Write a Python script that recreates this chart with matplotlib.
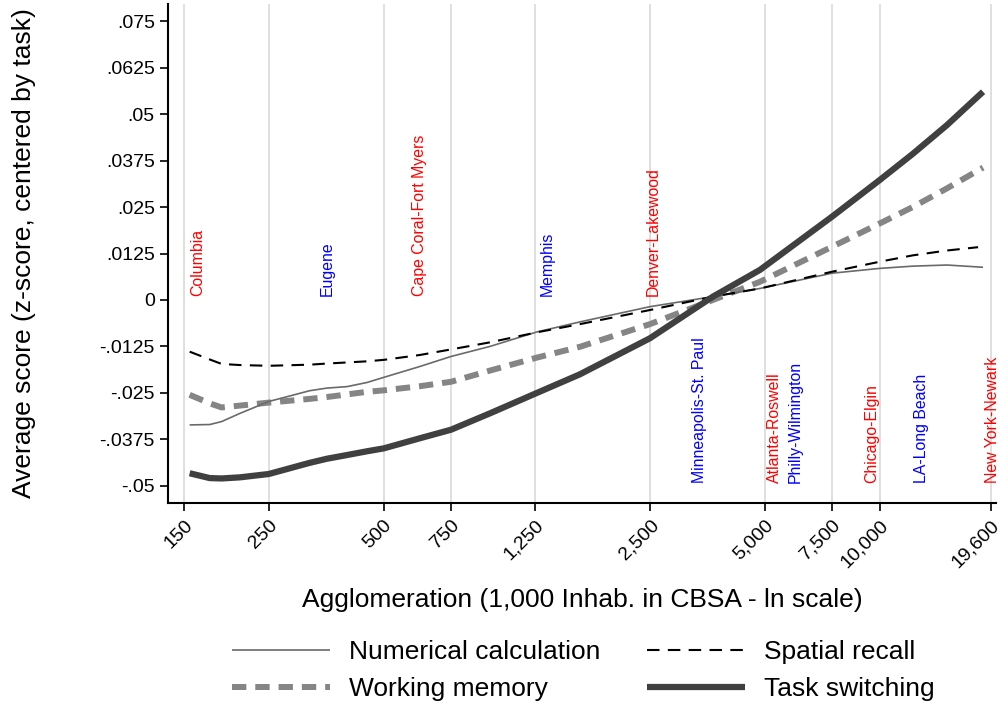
import matplotlib
matplotlib.use("Agg")
import matplotlib.pyplot as plt
import matplotlib.ticker as mticker

plt.rcParams['font.family'] = ['Liberation Sans', 'DejaVu Sans']

# ---- data (population in 1,000s, scores) ----
pop = [155, 175, 188, 210, 250, 320, 355, 401, 452, 501, 622, 751, 950,
       1262, 1636, 2498, 3654, 4857, 7502, 10020, 12220, 15010, 18680]
pop_spatial = [155, 175, 188, 210, 250, 320, 355, 401, 452, 501, 622, 751, 950,
               1262, 1636, 2498, 3654, 4857, 7502, 10020, 12220, 15010, 18130]

numerical = [-0.0336, -0.0335, -0.0327, -0.0305, -0.0273, -0.0244, -0.0237,
             -0.0233, -0.0222, -0.0208, -0.0179, -0.0152, -0.0125, -0.0086,
             -0.0059, -0.0018, 0.0009, 0.0031, 0.0072, 0.0085, 0.0091, 0.0094,
             0.0088]
spatial = [-0.0139, -0.0160, -0.0172, -0.0175, -0.0177, -0.0174, -0.0171,
           -0.0168, -0.0165, -0.0161, -0.0148, -0.0133, -0.0114, -0.0087,
           -0.0065, -0.0027, 0.0009, 0.0031, 0.0076, 0.0103, 0.0120, 0.0133,
           0.0142]
working = [-0.0255, -0.0278, -0.0289, -0.0284, -0.0276, -0.0266, -0.0261,
           -0.0254, -0.0247, -0.0243, -0.0232, -0.0220, -0.0190, -0.0155,
           -0.0126, -0.0065, 0.0000, 0.0049, 0.0143, 0.0206, 0.0250, 0.0300,
           0.0356]
switching = [-0.0466, -0.0479, -0.0480, -0.0477, -0.0468, -0.0438, -0.0427,
             -0.0417, -0.0407, -0.0399, -0.0372, -0.0349, -0.0305, -0.0250,
             -0.0200, -0.0103, 0.0009, 0.0081, 0.0224, 0.0323, 0.0393, 0.0470,
             0.0560]

series_names = ["Numerical calculation", "Working memory", "Spatial recall", "Task switching"]

x_ticks = [150, 250, 500, 750, 1250, 2500, 5000, 7500, 10000, 19600]
x_ticklabels = ["150", "250", "500", "750", "1,250", "2,500", "5,000", "7,500", "10,000", "19,600"]
y_ticks = [0.075, 0.0625, 0.05, 0.0375, 0.025, 0.0125, 0, -0.0125, -0.025, -0.0375, -0.05]
y_ticklabels = [".075", ".0625", ".05", ".0375", ".025", ".0125", "0", "-.0125", "-.025", "-.0375", "-.05"]

cities_top = ["Columbia", "Eugene", "Cape Coral-Fort Myers", "Memphis", "Denver-Lakewood"]
cities_top_x = [163, 355, 622, 1341, 2545]
cities_top_col = ["red", "blue", "red", "blue", "red"]
cities_bot = ["Minneapolis-St. Paul", "Atlanta-Roswell", "Philly-Wilmington",
              "Chicago-Elgin", "LA-Long Beach", "New York-Newark"]
cities_bot_x = [3360, 5315, 6000, 9550, 12910, 19730]
cities_bot_col = ["blue", "red", "blue", "red", "blue", "red"]

# ---- figure ----
fig = plt.figure(figsize=(10.08, 7.04), dpi=100)
ax = fig.add_axes([168/1008, 1-503/704, (996-168)/1008, (503-4)/704])
ax.set_xscale('log')
ax.set_xlim(136, 20200)
ax.set_ylim(-0.0546, 0.0796)

for xt in x_ticks:
    ax.axvline(xt, color='#dcdcdc', lw=1.3, zorder=0)

l1, = ax.plot(pop, numerical, color='#6a6a6a', lw=1.2, solid_capstyle='butt', zorder=3)
l2, = ax.plot(pop, working, color='#858585', lw=4.3, dashes=(2.4, 1.5), dash_capstyle='butt', zorder=2)
l3, = ax.plot(pop_spatial, spatial, color='black', lw=1.5, dashes=(6, 4), dash_capstyle='butt', zorder=3)
l4, = ax.plot(pop, switching, color='#404040', lw=4.5, solid_capstyle='butt', zorder=4)

for name, xv, c in zip(cities_top, cities_top_x, cities_top_col):
    ax.text(xv, 0.0012, name, rotation=90, ha='center', va='bottom', color=c, fontsize=11.4)
for name, xv, c in zip(cities_bot, cities_bot_x, cities_bot_col):
    ax.text(xv, -0.0492, name, rotation=90, ha='center', va='bottom', color=c, fontsize=11.4)

ax.xaxis.set_major_locator(mticker.FixedLocator(x_ticks))
ax.xaxis.set_minor_locator(mticker.NullLocator())
ax.set_xticklabels(x_ticklabels, rotation=45, ha='right', rotation_mode='anchor', fontsize=14)
ax.set_yticks(y_ticks)
ax.set_yticklabels(y_ticklabels, fontsize=14)
ax.tick_params(axis='both', direction='out', length=6, width=1.2, colors='black')
ax.tick_params(axis='x', pad=4)

for s in ['top', 'right']:
    ax.spines[s].set_visible(False)
for s in ['left', 'bottom']:
    ax.spines[s].set_linewidth(1.5)

ax.set_xlabel("Agglomeration (1,000 Inhab. in CBSA - ln scale)", fontsize=19, labelpad=12)
ax.set_ylabel("Average score (z-score, centered by task)", fontsize=19)
ax.yaxis.set_label_coords(-0.159, 0.5)

fig.legend([l1, l2, l3, l4], series_names, ncol=2, frameon=False,
           loc='center', bbox_to_anchor=(583.5/1008, 1-670.5/704),
           fontsize=19, handlelength=3.7, handletextpad=0.72,
           columnspacing=1.78, labelspacing=0.5)

fig.savefig("out.png", dpi=100)
